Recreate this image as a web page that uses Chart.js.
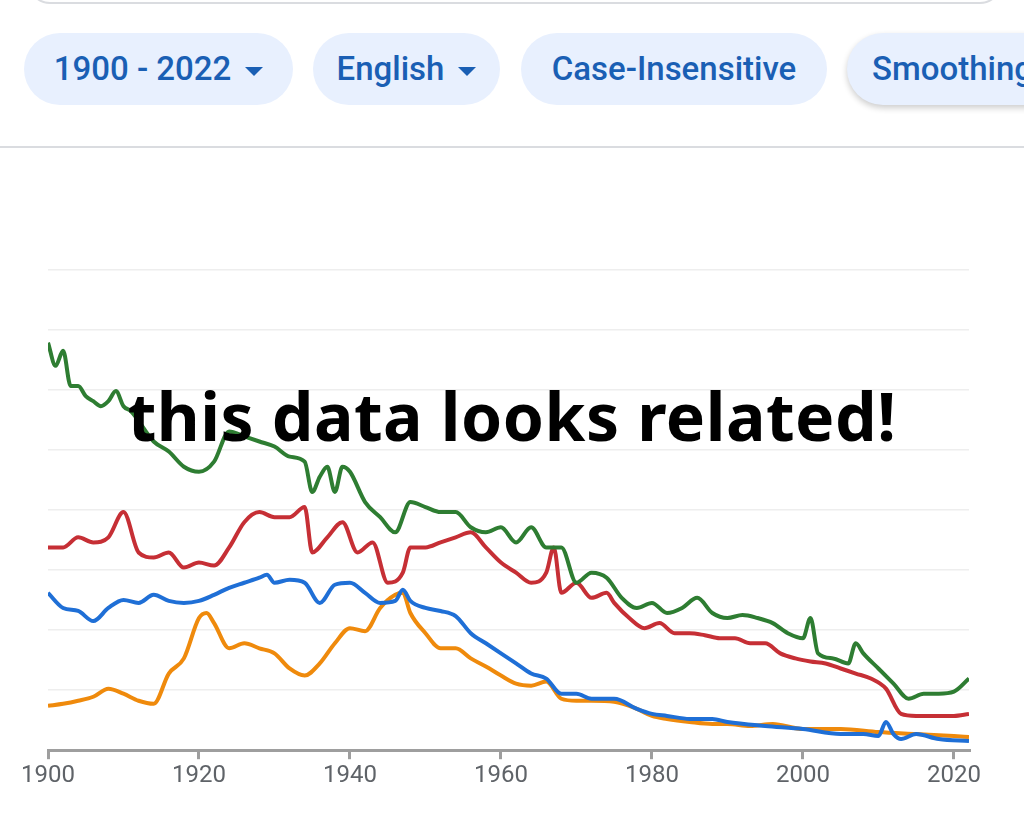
<!DOCTYPE html>
<html><head><meta charset="utf-8">
<script src="https://cdn.jsdelivr.net/npm/chart.js@4"></script>
<style>
body{margin:0;width:1024px;height:818px;background:#fff;overflow:hidden;position:relative;font-family:Roboto,sans-serif}
.search{position:absolute;left:28px;top:-40px;width:970px;height:40px;border:2px solid #dadce0;border-radius:22px}
.pill{position:absolute;top:33px;height:72px;border-radius:36px;background:#e8f0fe;color:#1a5fb4;font-size:33px;font-weight:500;line-height:72px;text-align:center;white-space:nowrap;overflow:hidden}
.pill .car{display:inline-block;width:0;height:0;border-left:9px solid transparent;border-right:9px solid transparent;border-top:9px solid #1a5fb4;vertical-align:middle;margin-left:14px}
.sep{position:absolute;left:0;top:146px;width:1024px;height:2px;background:#dadce0}
#wrap{position:absolute;left:0;top:150px;width:1024px;height:668px}
.over{position:absolute;left:0;width:1024px;top:370px;text-align:center;font-family:"Noto Sans",sans-serif;font-weight:700;font-size:66px;color:#000;letter-spacing:0.5px}
</style></head><body>
<div class="search"></div>
<div class="pill" style="left:24px;width:269px">1900 - 2022<span class="car"></span></div>
<div class="pill" style="left:313px;width:187px">English<span class="car"></span></div>
<div class="pill" style="left:521px;width:306px">Case-Insensitive</div>
<div class="pill" style="left:847px;width:220px;text-align:left;padding-left:25px;box-shadow:0 3px 6px rgba(0,0,0,0.2)">Smoothing</div>
<div class="sep"></div>
<div id="wrap"><canvas id="c"></canvas></div>
<div class="over">this data looks related!</div>
<script>
const greenYears=[1900,1901,1902,1903,1904,1905,1906,1907,1908,1909,1910,1911,1914,1916,1918,1920,1922,1924,1926,1928,1930,1932,1934,1935,1936,1937,1938,1939,1940,1942,1944,1946,1948,1950,1952,1954,1956,1958,1960,1962,1964,1966,1968,1970,1972,1974,1976,1978,1980,1982,1984,1986,1988,1990,1992,1994,1996,1998,2000,2001,2002,2004,2006,2007,2008,2010,2012,2014,2016,2018,2020,2022];
const greenVals=[404,381,396,361,361,351,346,341,346,356,341,336,306,296,281,276,286,316,311,306,301,291,286,256,271,281,256,281,276,246,231,216,246,241,236,236,221,216,221,206,221,201,201,166,176,171,151,141,146,136,141,151,136,131,134,131,126,116,111,131,96,91,86,106,96,81,66,51,56,56,58,71];
const redYears=[1900,1902,1904,1906,1908,1910,1912,1914,1916,1918,1920,1922,1924,1926,1928,1930,1932,1934,1935,1937,1939,1941,1943,1945,1947,1948,1950,1952,1954,1956,1958,1960,1962,1964,1966,1967,1968,1970,1972,1974,1975,1977,1979,1981,1983,1985,1987,1989,1991,1993,1995,1997,1999,2001,2003,2005,2007,2009,2011,2013,2015,2018,2020,2022];
const redVals=[201,201,211,206,211,236,196,191,196,181,186,183,201,226,236,231,231,241,196,211,226,196,206,166,176,201,201,206,211,216,201,186,176,166,176,201,156,166,151,156,146,131,121,126,116,116,114,111,111,106,106,96,91,88,86,81,76,71,61,36,34,34,34,36];
const blueYears=[1900,1902,1904,1906,1908,1910,1912,1914,1916,1918,1920,1922,1924,1926,1928,1929,1930,1932,1934,1936,1938,1940,1942,1944,1946,1947,1948,1950,1952,1954,1956,1958,1960,1962,1964,1966,1968,1970,1972,1975,1978,1980,1982,1985,1988,1990,1995,2000,2005,2008,2010,2011,2012,2013,2015,2018,2022];
const blueVals=[156,141,138,128,141,149,146,154,148,146,148,154,161,166,171,174,166,169,166,146,164,166,156,146,148,159,148,141,138,133,116,106,96,86,76,71,56,56,51,51,41,36,34,31,31,28,24,21,16,16,14,28,16,11,16,11,9];
const orangeYears=[1900,1902,1904,1906,1908,1910,1912,1914,1916,1918,1920,1921,1922,1924,1926,1928,1930,1932,1934,1936,1938,1940,1942,1944,1946,1947,1948,1950,1952,1954,1956,1958,1960,1962,1964,1966,1968,1970,1972,1975,1978,1980,1982,1985,1988,1990,1993,1996,2000,2005,2010,2015,2020,2022];
const orangeVals=[44,46,49,53,61,56,49,46,76,91,131,136,126,101,106,101,96,81,74,86,106,121,118,141,154,156,136,116,101,101,91,83,74,66,64,68,51,49,49,48,41,34,31,28,26,26,24,26,21,21,18,16,14,13];
const xTicks=[1900,1920,1940,1960,1980,2000,2020];
const mk=(ys,vs)=>ys.map((y,i)=>({x:y,y:vs[i]}));
const ds=(l,ys,vs,c)=>({label:l,data:mk(ys,vs),borderColor:c,borderWidth:4,pointRadius:0,cubicInterpolationMode:'monotone',fill:false});
new Chart(document.getElementById('c'),{type:'line',
data:{datasets:[ds('green',greenYears,greenVals,'#2e7d32'),ds('red',redYears,redVals,'#c62f35'),ds('blue',blueYears,blueVals,'#1f6fd6'),ds('orange',orangeYears,orangeVals,'#ef8a0c')]},
options:{responsive:true,maintainAspectRatio:false,animation:false,
layout:{padding:{top:120,left:48,right:55,bottom:26}},
plugins:{legend:{display:false},tooltip:{enabled:false}},
scales:{
x:{type:'linear',min:1900,max:2022,afterBuildTicks:s=>{s.ticks=xTicks.map(v=>({value:v}))},
 grid:{display:true,drawOnChartArea:false,drawTicks:true,tickLength:9,color:'#9e9e9e',lineWidth:3},
 border:{display:true,color:'#9e9e9e',width:3},
 ticks:{color:'#5f6368',font:{family:'Roboto',size:24},padding:2,maxRotation:0,callback:v=>String(v)}},
y:{min:0,max:476,afterBuildTicks:s=>{s.ticks=[0,1,2,3,4,5,6,7,8].map(i=>({value:i*59.5}))},afterFit:s=>{s.width=0},
 grid:{color:'#eeeeee',lineWidth:1.5,drawTicks:false},border:{display:false},ticks:{display:false}}
}}});
</script></body></html>
